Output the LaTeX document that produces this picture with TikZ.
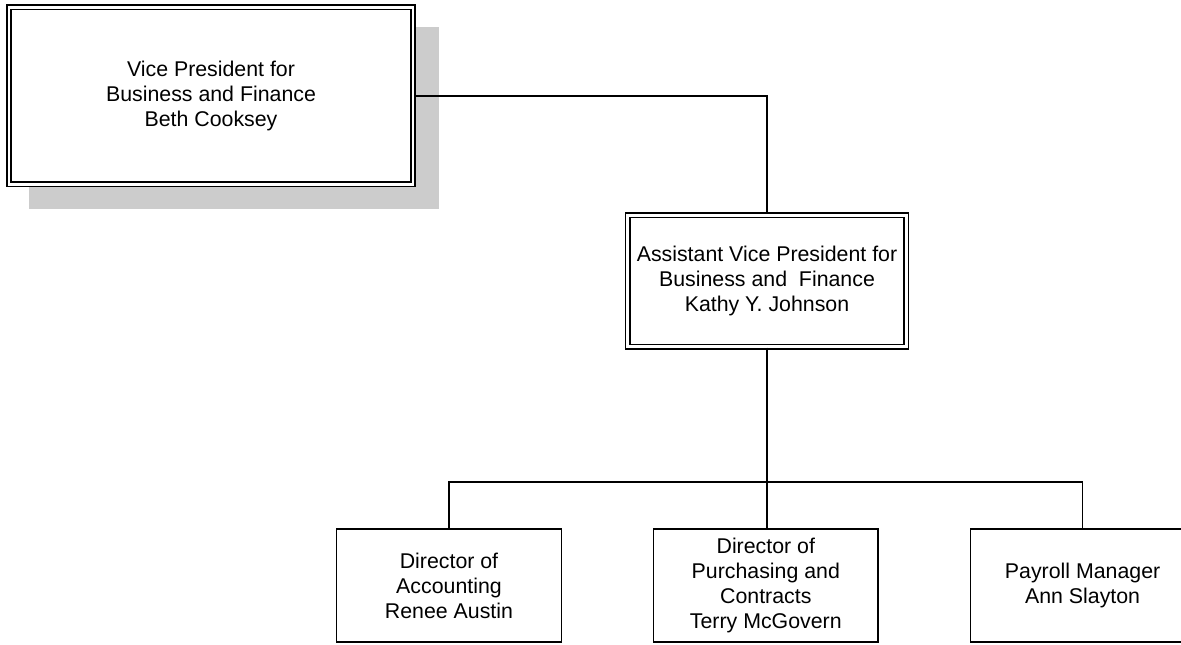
\documentclass[tikz,border=0pt]{standalone}
\usepackage{fontspec}
\setmainfont{Liberation Sans}
\usetikzlibrary{positioning, backgrounds}
\definecolor{shadowgray}{HTML}{CCCCCC}
\tikzstyle{chart}=[line width=1.1pt, node distance=68pt, x=0.75pt, y=-0.75pt,
  font=\fontsize{16pt}{18.75pt}\selectfont]
\tikzstyle{headbox}=[draw, fill=white, double, double distance=2.1pt,
  line width=1.2pt, rectangle, align=center, inner sep=2pt]
\tikzstyle{staffbox}=[draw, fill=white, rectangle, align=center, inner sep=2pt,
  minimum width=168.5pt, minimum height=84.75pt]

\begin{document}
\begin{tikzpicture}[chart]
  \path[use as bounding box] (0,0) rectangle (1181,645);
  \clip (0,0) rectangle (1181,645);
  \node[headbox, minimum width=303pt, minimum height=132.75pt] (vp) at (211,96)
    {Vice President for\\Business and Finance\\Beth Cooksey};
  \node[headbox, minimum width=208.9pt, minimum height=98.6pt] (avp) at (767,281)
    {Assistant Vice President for\\Business and\ \ Finance\\Kathy Y. Johnson};
  \node[staffbox] (acct) at (449,585.5) {Director of\\Accounting\\Renee Austin};
  \node[staffbox] (purch) [right=of acct]
    {Director of\\Purchasing and\\Contracts\\Terry McGovern};
  \node[staffbox] (pay) [right=of purch] {Payroll Manager\\Ann Slayton};
  \coordinate (bus) at (avp.south |- 0,482);
  \begin{scope}[on background layer]
    \fill[shadowgray] ([shift={(20.5,20)}]vp.north west)
      rectangle ([shift={(25.2,23.7)}]vp.south east);
  \end{scope}
  \draw (vp.east) -| (avp.north);
  \draw (avp.south) -- (bus);
  \draw (bus) -- (bus |- purch.north);
  \draw (acct.north) |- (bus) -| (pay.north);
\end{tikzpicture}
\end{document}
